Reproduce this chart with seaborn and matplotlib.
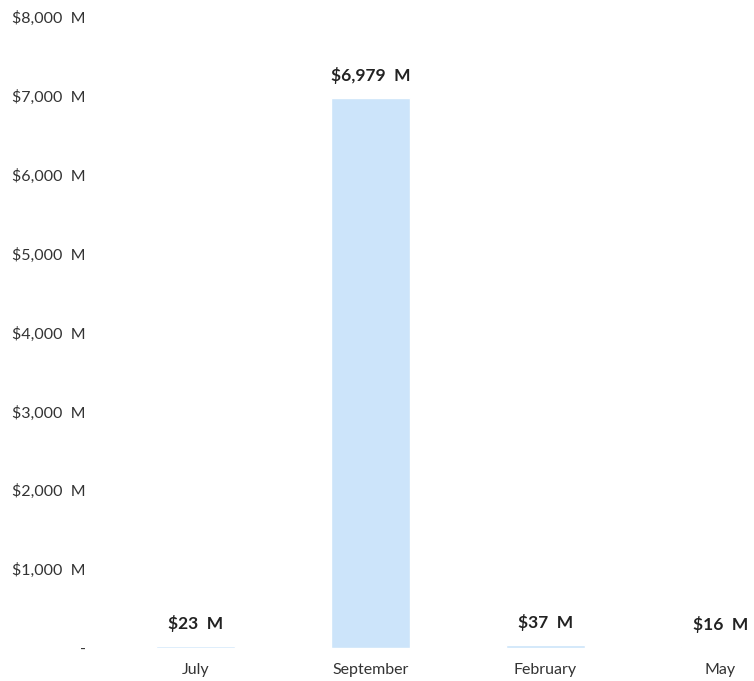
import matplotlib
matplotlib.use("Agg")
import matplotlib.pyplot as plt
import seaborn as sns
import pandas as pd

months = ["July", "September", "February", "May"]
values = [23, 6979, 37, 16]
ytick_values = [0, 1000, 2000, 3000, 4000, 5000, 6000, 7000, 8000]

sns.set_style("white")
plt.rcParams["font.family"] = ["Lato", "DejaVu Sans"]

fig = plt.figure(figsize=(7.54, 6.81), dpi=100)
W, H = 754, 681
ax = fig.add_axes([108 / W, (H - 648) / H, (W - 108) / W, (648 - 17) / H])

df = pd.DataFrame({"month": months, "value": values})
sns.barplot(data=df, x="month", y="value", color="#cce4fa", saturation=1,
            width=0.457, ax=ax)

ax.set_xlim(-0.5, (W - 108) / 175 - 0.5)
ax.set_ylim(0, 8000)
ax.set_yticks(ytick_values)
ax.set_yticklabels(["-" if v == 0 else f"${v:,}  M" for v in ytick_values],
                   fontsize=11.5, color="#333333")
ax.tick_params(axis="y", length=0, pad=16)
ax.tick_params(axis="x", length=0, pad=11, labelsize=11.5, labelcolor="#333333")
ax.set_xlabel("")
ax.set_ylabel("")
for s in ax.spines.values():
    s.set_visible(False)

for i, v in enumerate(values):
    ax.annotate(f"${v:,}  M", xy=(i, v), xytext=(0, 16), textcoords="offset points",
                ha="center", va="center", fontsize=12.5, fontweight="bold", color="#222222")

fig.savefig("out.png", dpi=100)
